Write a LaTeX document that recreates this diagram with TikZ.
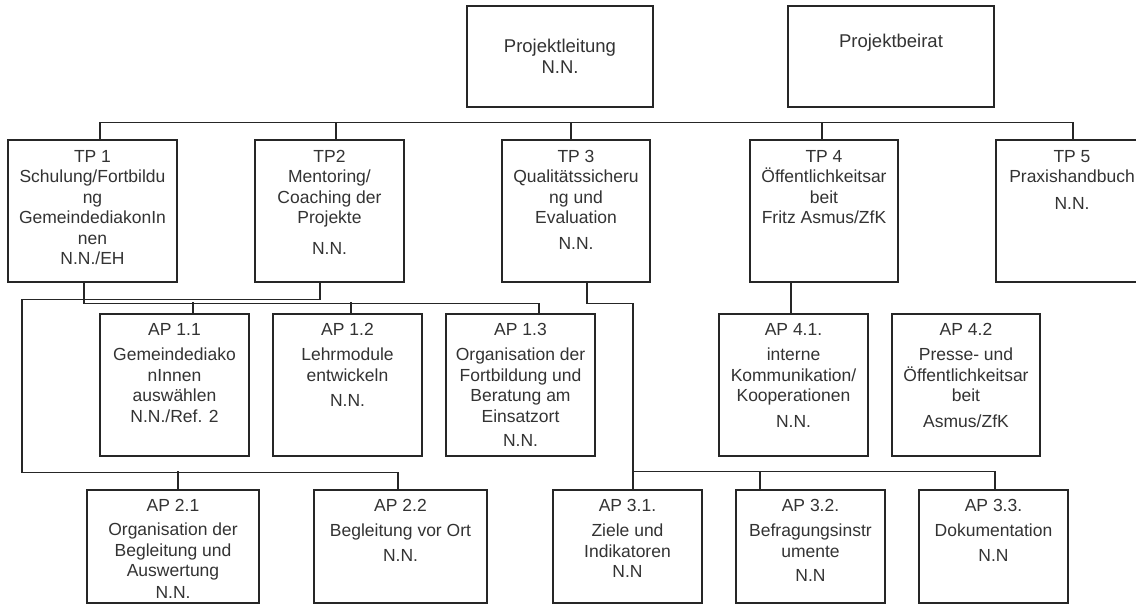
\documentclass[tikz,border=0pt]{standalone}
\usepackage{fontspec}
\setmainfont{Liberation Sans}
\begin{document}
\begin{tikzpicture}[x=1pt,y=-1pt,
  obx/.style={draw=black!85, line width=1.3pt, rectangle, inner sep=0pt},
  lbl/.style={font=\fontsize{17.5}{20.5}\selectfont, align=center, inner sep=0pt, text=black!80},
  toplbl/.style={lbl, font=\fontsize{18.5}{21}\selectfont},
  conn/.style={draw=black!85, line width=1.3pt}]
\fill[white] (0,0) rectangle (1136,605);
\useasboundingbox (0,0) rectangle (1136,605);
\clip (0,0) rectangle (1136,605);
\newcommand\obox[7]{%
  \node[obx, minimum width={(#4-#2)*1pt}, minimum height={(#5-#3)*1pt}] (#1) at ({(#2+#4)/2},{(#3+#5)/2}) {};
  \node[lbl, anchor=north] (#1-t) at ([yshift=-#6pt]#1.north) {#7};}
% top boxes
\node[obx, minimum width=186pt, minimum height=101pt] (pl) at (560,56.5) {};
\node[toplbl, anchor=north] (pl-t) at ([yshift=-34pt]pl.north) {Projektleitung\\N.N.};
\node[obx, minimum width=206pt, minimum height=101pt] (pb) at (891,56.5) {};
\node[toplbl, anchor=north] (pb-t) at ([yshift=-29pt]pb.north) {Projektbeirat};
% TP row
\obox{tp1}{8}{140}{177}{282}{10.7}{TP 1\\Schulung/Fortbildu\\ng\\GemeindediakonIn\\nen\\N.N./EH}
\obox{tp2}{255}{140}{404}{282}{10.7}{TP2\\Mentoring/\\Coaching der\\Projekte\\[10pt]N.N.}
\obox{tp3}{502}{140}{650}{282}{10.7}{TP 3\\Qualitätssicheru\\ng und\\Evaluation\\[5pt]N.N.}
\obox{tp4}{750}{140}{898}{282}{10.7}{TP 4\\Öffentlichkeitsar\\beit\\Fritz Asmus/ZfK}
\obox{tp5}{996}{140}{1148}{282}{10.7}{TP 5\\Praxishandbuch\\[6pt]N.N.}
% AP row 1
\obox{ap11}{100}{314}{249}{456}{9.7}{AP 1.1\\[5pt]Gemeindediako\\nInnen\\auswählen\\N.N./Ref. 2}
\obox{ap12}{273}{314}{422}{456}{9.7}{AP 1.2\\[5pt]Lehrmodule\\entwickeln\\[5pt]N.N.}
\obox{ap13}{446}{314}{595}{456}{9.7}{AP 1.3\\[5pt]Organisation der\\Fortbildung und\\Beratung am\\Einsatzort\\[3.5pt]N.N.}
\obox{ap41}{719}{314}{868}{456}{9.7}{AP 4.1.\\[5pt]interne\\Kommunikation/\\Kooperationen\\[5pt]N.N.}
\obox{ap42}{892}{314}{1040}{456}{9.7}{AP 4.2\\[5pt]Presse- und\\Öffentlichkeitsar\\beit\\[5pt]Asmus/ZfK}
% AP row 2
\obox{ap21}{87}{490}{259}{603}{10.2}{AP 2.1\\[3.5pt]Organisation der\\Begleitung und\\Auswertung\\[1.5pt]N.N.}
\obox{ap22}{314}{490}{487}{603}{10.2}{AP 2.2\\[4.5pt]Begleitung vor Ort\\[4.5pt]N.N.}
\obox{ap31}{553}{490}{702}{603}{10.2}{AP 3.1.\\[4.5pt]Ziele und\\Indikatoren\\N.N}
\obox{ap32}{736}{490}{885}{603}{10.2}{AP 3.2.\\[4.5pt]Befragungsinstr\\umente\\[3.5pt]N.N}
\obox{ap33}{919}{490}{1068}{603}{10.2}{AP 3.3.\\[4.5pt]Dokumentation\\[4.5pt]N.N}
% top bus
\draw[conn] ([xshift=7.5pt]tp1.north) -- ++(0,-17) -| ([xshift=1pt]tp5.north);
\draw[conn] ([xshift=6.5pt]tp2.north) -- ++(0,-17);
\draw[conn] ([xshift=-5pt]tp3.north) -- ++(0,-17);
\draw[conn] ([xshift=-2pt]tp4.north) -- ++(0,-17);
% TP1 -> AP1.x
\draw[conn] ([xshift=-8.5pt]tp1.south) -- ++(0,21) -| ([xshift=18.5pt]ap13.north);
\draw[conn] ([xshift=18.5pt]ap11.north) -- ++(0,-11);
\draw[conn] ([xshift=3.5pt]ap12.north) -- ++(0,-11);
% TP2 -> AP2.x
\draw[conn] ([xshift=-9.5pt]tp2.south) -- ++(0,17) -- ++(-298,0) -- ++(0,173) -| ([xshift=-2.5pt]ap22.north);
\draw[conn] ([xshift=5pt]ap21.north) -- ++(0,-18);
% TP3 -> AP3.x
\draw[conn] ([xshift=11pt]tp3.south) -- ++(0,21) -| ([xshift=5.5pt]ap31.north);
\draw[conn] ([xshift=5.5pt,yshift=18pt]ap31.north) -| ([xshift=1.5pt]ap33.north);
\draw[conn] ([xshift=-50.5pt]ap32.north) -- ++(0,-18);
% TP4 -> AP4.1
\draw[conn] ([xshift=-33pt]tp4.south) -- ([xshift=-2.5pt]ap41.north);
\end{tikzpicture}
\end{document}
